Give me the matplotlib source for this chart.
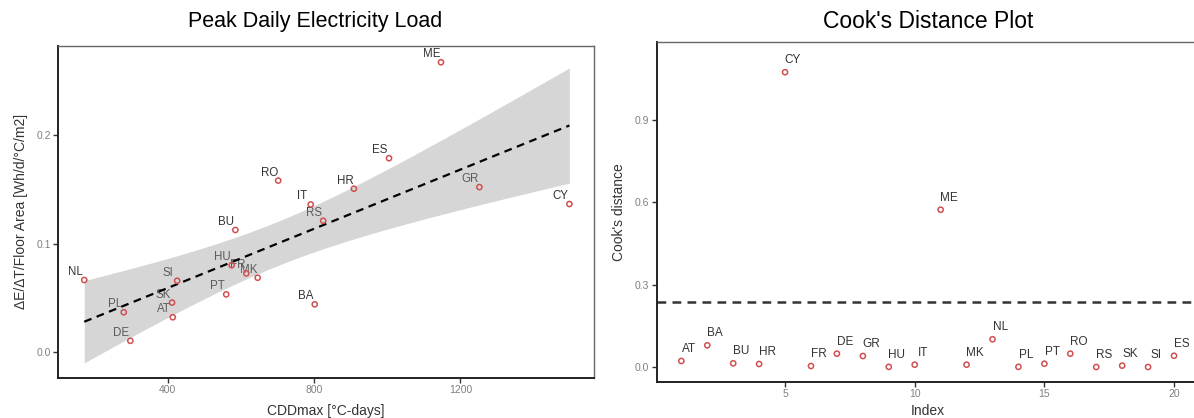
import matplotlib
matplotlib.use("Agg")
import matplotlib.pyplot as plt
import numpy as np

plt.rcParams["font.family"] = ["Liberation Sans", "DejaVu Sans"]

# left panel: CDDmax vs peak load coefficient
COUNTRIES = ["ME", "ES", "RO", "HR", "GR", "CY", "IT", "RS", "BU", "HU",
             "FR", "MK", "NL", "SI", "PT", "SK", "AT", "PL", "DE", "BA"]
CDD = [1147, 1005, 702, 909, 1252, 1498, 791, 825, 585, 575,
       615, 646, 172, 426, 560, 412, 414, 280, 298, 802]
LOAD = [0.267, 0.1786, 0.158, 0.1505, 0.152, 0.1364, 0.136, 0.121, 0.1125, 0.080,
        0.0725, 0.0685, 0.0664, 0.0657, 0.0532, 0.0456, 0.0321, 0.0367, 0.0104, 0.044]

# right panel: Cook's distance by index
COOK_LABELS = ["AT", "BA", "BU", "HR", "CY", "FR", "DE", "GR", "HU", "IT",
               "ME", "MK", "NL", "PL", "PT", "RO", "RS", "SK", "SI", "ES"]
COOK_D = [0.022, 0.079, 0.0134, 0.011, 1.074, 0.0036, 0.0486, 0.040, 0.0005, 0.0085,
          0.573, 0.0085, 0.101, 0.0005, 0.012, 0.0486, 0.0, 0.005, 0.0, 0.041]
COOK_CUT = 4 / 17

T_CRIT = 2.1009  # t(0.975, df=18)

PT_RED = "#d05050"
TXT = "#333333"
TICK = "#808080"


def style_axes(ax):
    for s in ["top", "right"]:
        ax.spines[s].set_color("#666666")
        ax.spines[s].set_linewidth(1.0)
    for s in ["left", "bottom"]:
        ax.spines[s].set_color("#222222")
        ax.spines[s].set_linewidth(1.4)
    ax.tick_params(direction="out", length=3.5, width=1.0, color="#333333",
                   labelsize=7.5, labelcolor=TICK, pad=2)


fig = plt.figure(figsize=(11.94, 4.18), dpi=100)

# ---- left: regression with confidence band
ax1 = fig.add_axes([0.0488, 0.0964, 0.4483, 0.7936])
x = np.array(CDD, float)
y = np.array(LOAD, float)
n = len(x)
b1, b0 = np.polyfit(x, y, 1)
resid = y - (b0 + b1 * x)
s = np.sqrt(np.sum(resid ** 2) / (n - 2))
xs = np.linspace(x.min(), x.max(), 200)
se = s * np.sqrt(1 / n + (xs - x.mean()) ** 2 / np.sum((x - x.mean()) ** 2))
fit = b0 + b1 * xs

for c, xi, yi in zip(COUNTRIES, CDD, LOAD):
    ax1.annotate(c, (xi, yi), xytext=(-9, 8), textcoords="offset pixels",
                 ha="center", va="center", fontsize=8.3, color=TXT, zorder=1)
ax1.fill_between(xs, fit - T_CRIT * se, fit + T_CRIT * se, color="#999999",
                 alpha=0.4, lw=0, zorder=2)
ax1.plot(xs, fit, color="black", lw=1.6, ls=(0, (3.5, 2.5)), zorder=3)
ax1.scatter(x, y, s=14, facecolors="none", edgecolors=PT_RED, linewidths=1.1, zorder=4)

ax1.set_xlim(101, 1564)
ax1.set_ylim(-0.0236, 0.282)
ax1.set_xticks([400, 800, 1200])
ax1.set_yticks([0.0, 0.1, 0.2])
ax1.set_yticklabels(["0.0", "0.1", "0.2"])
style_axes(ax1)
ax1.set_xlabel("CDDmax [°C-days]", fontsize=10, color=TXT, labelpad=6)
ax1.set_ylabel("ΔE/ΔT/Floor Area [Wh/d/°C/m2]", fontsize=10, color=TXT, labelpad=6)
fig.text(315 / 1194, 1 - 21 / 418, "Peak Daily Electricity Load", ha="center",
         va="center", fontsize=15.5)

# ---- right: Cook's distance
ax2 = fig.add_axes([0.55, 0.0868, 0.4539, 0.812])
idx = np.arange(1, len(COOK_D) + 1)
ax2.axhline(COOK_CUT, color="#333333", lw=1.8, ls=(0, (3.5, 2.5)), zorder=2)
ax2.scatter(idx, COOK_D, s=14, facecolors="none", edgecolors=PT_RED, linewidths=1.1, zorder=4)
for c, xi, yi in zip(COOK_LABELS, idx, COOK_D):
    ax2.annotate(c, (xi, yi), xytext=(8, 12), textcoords="offset pixels",
                 ha="center", va="center", fontsize=8.5, color=TXT, zorder=5)
ax2.set_xlim(0.05, 20.95)
ax2.set_ylim(-0.0536, 1.183)
ax2.set_xticks([5, 10, 15, 20])
ax2.set_yticks([0.0, 0.3, 0.6, 0.9])
ax2.set_yticklabels(["0.0", "0.3", "0.6", "0.9"])
style_axes(ax2)
ax2.set_xlabel("Index", fontsize=10, color=TXT, labelpad=3)
ax2.set_ylabel("Cook's distance", fontsize=10, color=TXT, labelpad=6)
fig.text(928 / 1194, 1 - 21 / 418, "Cook's Distance Plot", ha="center",
         va="center", fontsize=16.5)

fig.savefig("out.png", dpi=100)
